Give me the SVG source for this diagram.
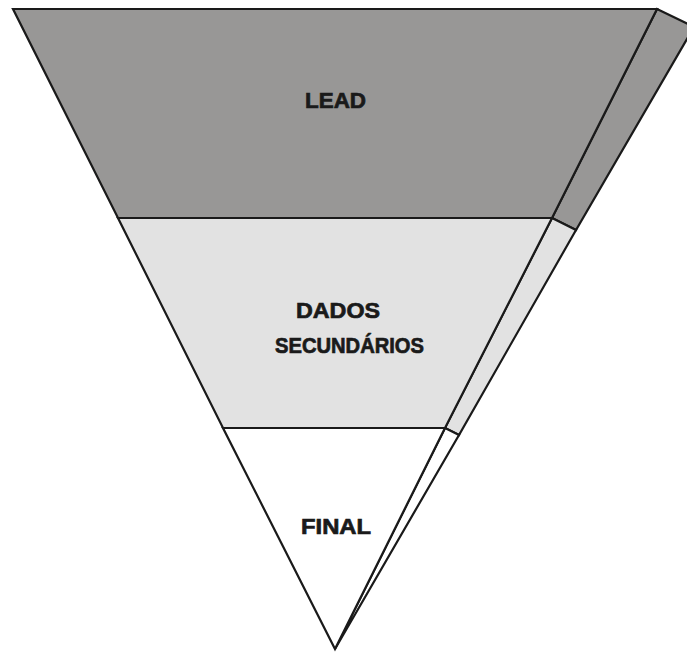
<svg xmlns="http://www.w3.org/2000/svg" width="687" height="652" viewBox="0 0 687 652">
<style>
.e{stroke:#1a1a1a;stroke-width:2.2;stroke-linejoin:miter}
.d{fill:#989796}
.l{fill:#e2e2e2}
.w{fill:#ffffff}
text{font-family:"Liberation Sans",Arial,sans-serif;font-weight:bold;font-size:22px;fill:#1a1a1a;stroke:#1a1a1a;stroke-width:0.7;text-anchor:middle}
</style>
<rect width="687" height="652" fill="#ffffff"/>
<g id="side">
<polygon class="d e" points="657,9 694,27 576,230 552,218"/>
<polygon class="l e" points="552,218 576,230 459,435 445,428"/>
<polygon class="w e" points="445,428 459,435 335,649"/>
</g>
<g id="lead">
<polygon class="d e" points="13,9 657,9 552,218 118,218"/>
<text x="335.5" y="108" textLength="61" lengthAdjust="spacingAndGlyphs">LEAD</text>
</g>
<g id="dados">
<polygon class="l e" points="118,218 552,218 445,428 223,428"/>
<text x="338" y="318" textLength="84" lengthAdjust="spacingAndGlyphs">DADOS</text>
<text x="349.5" y="353" textLength="149" lengthAdjust="spacingAndGlyphs">SECUNDÁRIOS</text>
</g>
<g id="final">
<polygon class="w e" points="223,428 445,428 335,649"/>
<text x="336" y="534" textLength="70" lengthAdjust="spacingAndGlyphs">FINAL</text>
</g>
</svg>
